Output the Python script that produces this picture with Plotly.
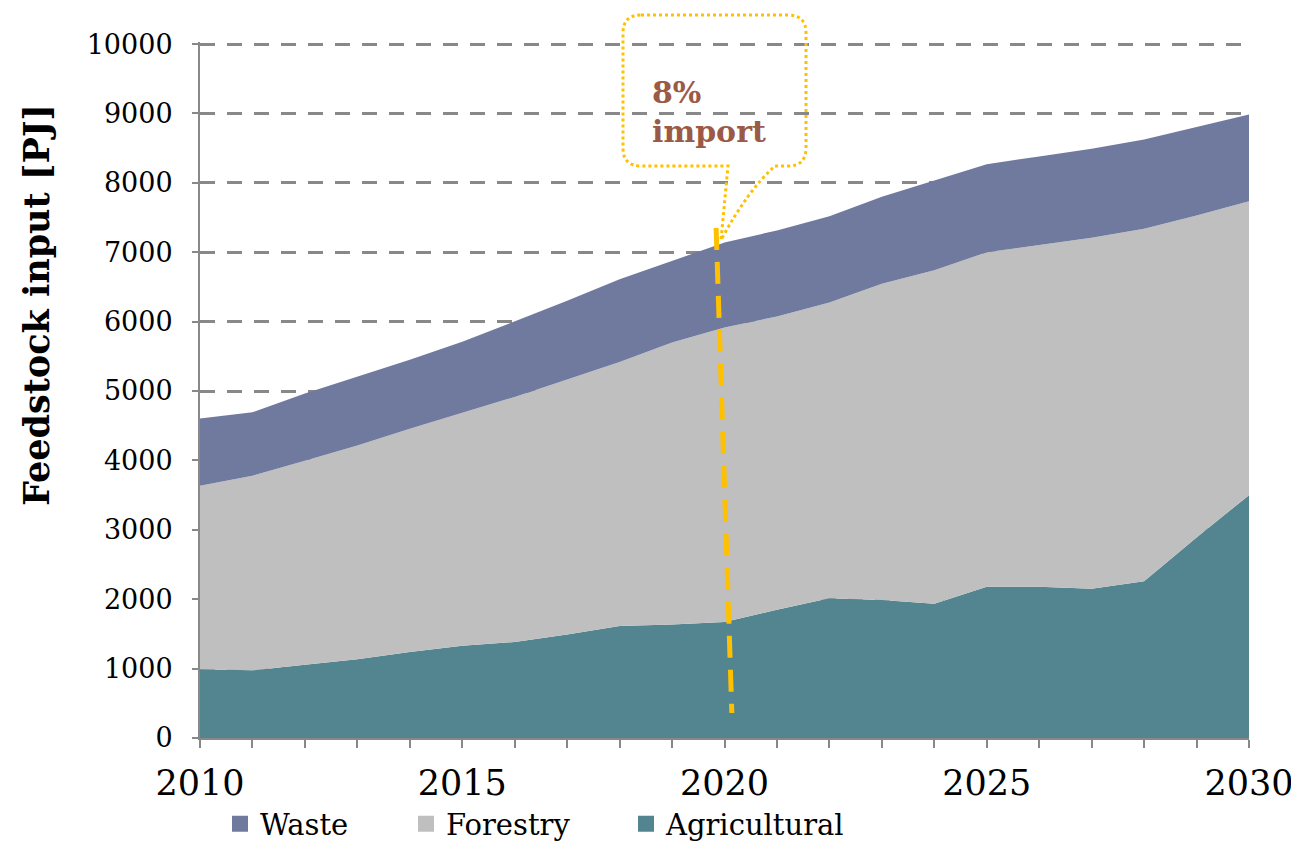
import plotly.graph_objects as go

years = list(range(2010, 2031))
agricultural = [990, 975, 1055, 1135, 1240, 1330, 1385, 1490, 1615, 1635, 1670,
                1850, 2015, 1990, 1935, 2180, 2180, 2150, 2260, 2890, 3500]
forestry = [2645, 2805, 2940, 3080, 3215, 3360, 3530, 3675, 3805, 4065, 4245,
            4225, 4260, 4555, 4805, 4820, 4920, 5060, 5080, 4640, 4235]
waste = [970, 915, 970, 990, 995, 1020, 1085, 1135, 1190, 1170, 1225,
         1240, 1245, 1255, 1290, 1270, 1280, 1280, 1285, 1270, 1250]

series_names = ["Agricultural", "Forestry", "Waste"]
series_colors = ["#52858F", "#BFBFBF", "#707A9F"]
series_values = [agricultural, forestry, waste]

y_ticks = list(range(0, 10001, 1000))
y_ticktext = [str(v) for v in y_ticks]
x_ticktext = [str(y) if y % 5 == 0 else "" for y in years]

# page is rendered with an 8px body margin -> figure is shifted by OFF
OFF = 8
FIG_W, FIG_H = 1299 - OFF, 842 - OFF
Y_TOP = 10030
PL, PR, PB = 200, 1249, 738          # plot edges in page pixels
PW = PR - PL
PH = round(694 * Y_TOP / 10000)
PT = PB - PH

fig = go.Figure()
for name, color, vals in zip(series_names, series_colors, series_values):
    fig.add_trace(go.Scatter(
        x=years, y=vals, name=name, mode="lines", stackgroup="one",
        line=dict(width=0, color=color), fillcolor=color, showlegend=False,
    ))

legend_ids = {"Waste": "legend", "Forestry": "legend2", "Agricultural": "legend3"}
for name, color in zip(series_names, series_colors):
    fig.add_trace(go.Scatter(
        x=[None], y=[None], name=name, mode="markers",
        marker=dict(symbol="square", size=16, color=color),
        showlegend=True, legend=legend_ids[name],
    ))

# import marker line (dashed gold)
fig.add_shape(type="line", xref="x", yref="y",
              x0=2019.84, y0=7350, x1=2020.14, y1=360,
              line=dict(color="#FFC000", width=5, dash="22px,12px"), layer="above")

def P(px, py):
    return (px - PL) / PW, (PB - py) / PH

left, right, top, bot, r = 623, 806, 15, 166, 18
tipx, tipy = 721, 240
pts = []
def mv(px, py, cmd="L"):
    x, y = P(px, py)
    pts.append(f"{cmd} {x:.5f},{y:.5f}")
def q(cx, cy, ex, ey):
    x1, y1 = P(cx, cy); x2, y2 = P(ex, ey)
    pts.append(f"Q {x1:.5f},{y1:.5f} {x2:.5f},{y2:.5f}")
mv(left + r, top, "M")
mv(right - r, top)
q(right, top, right, top + r)
mv(right, bot - r)
q(right, bot, right - r, bot)
mv(775, bot)
q(748, 190, tipx, tipy)
mv(728, bot)
mv(left + r, bot)
q(left, bot, left, bot - r)
mv(left, top + r)
q(left, top, left + r, top)
pts.append("Z")
fig.add_shape(type="path", xref="paper", yref="paper", path=" ".join(pts),
              line=dict(color="#FFC000", width=3, dash="dot"),
              fillcolor="rgba(0,0,0,0)", layer="above")

ax, ay = P(650, 112)
fig.add_annotation(xref="paper", yref="paper", x=ax, y=ay, xanchor="left",
                   yanchor="middle", align="left", showarrow=False,
                   text="<b>8%<br>import</b>",
                   font=dict(family="DejaVu Serif", size=30, color="#9B5A46"))

tx, ty = P(36, 305)
fig.add_annotation(xref="paper", yref="paper", x=tx, y=ty,
                   xanchor="center", yanchor="middle", showarrow=False,
                   textangle=-90, text="<b>Feedstock input [PJ]</b>",
                   font=dict(family="DejaVu Serif", size=35, color="#000000"))

leg_font = dict(family="DejaVu Serif", size=29, color="#000000")
def leg(px):
    return dict(orientation="h", xref="container", yref="container",
                x=(px - OFF) / FIG_W, y=1 - (824 - OFF) / FIG_H,
                xanchor="left", yanchor="middle",
                font=leg_font, bgcolor="rgba(0,0,0,0)", itemwidth=30)

fig.update_layout(
    width=FIG_W, height=FIG_H,
    margin=dict(l=PL - OFF, r=FIG_W - (PR - OFF), t=PT - OFF,
                b=FIG_H - (PB - OFF), autoexpand=False),
    plot_bgcolor="white", paper_bgcolor="white",
    showlegend=True,
    legend=leg(220), legend2=leg(406), legend3=leg(626),
    xaxis=dict(range=[2010, 2030], tickvals=years, ticktext=x_ticktext,
               ticks="outside", ticklen=8, tickcolor="#888888", tickwidth=2,
               showline=True, linecolor="#888888", linewidth=2,
               showgrid=False, zeroline=False, automargin=False,
               ticklabelstandoff=5,
               tickfont=dict(family="DejaVu Serif", size=35, color="#000000")),
    yaxis=dict(range=[0, Y_TOP], tickvals=y_ticks, ticktext=y_ticktext,
               ticks="outside", ticklen=6, tickcolor="#888888", tickwidth=2,
               showline=True, linecolor="#888888", linewidth=2,
               showgrid=True, gridcolor="#888888", gridwidth=3, griddash="15px,12px",
               zeroline=False, ticklabelstandoff=14, automargin=False,
               tickfont=dict(family="DejaVu Serif", size=27, color="#000000")),
)

fig.write_html("out.html")
